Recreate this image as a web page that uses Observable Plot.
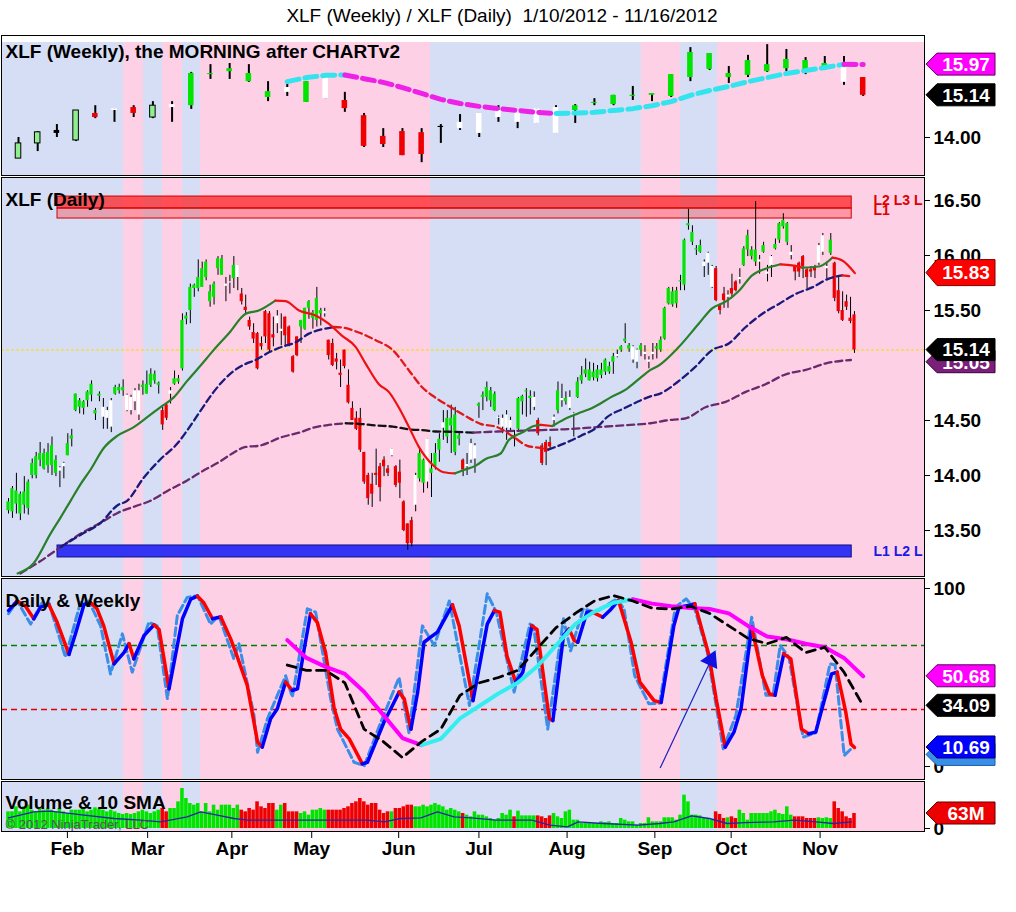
<!DOCTYPE html>
<html><head><meta charset="utf-8">
<script src="https://cdn.jsdelivr.net/npm/d3@7"></script>
<script src="https://cdn.jsdelivr.net/npm/@observablehq/plot@0.6"></script>
<style>
body{margin:0;background:#fff;}
#wrap{position:relative;width:1016px;height:912px;font-family:"Liberation Sans",Arial,sans-serif;overflow:hidden;}
#title{position:absolute;left:0;top:5px;width:1004px;text-align:center;font-size:19px;color:#000;white-space:pre;}
.panel{position:absolute;left:0;}
.panel svg{display:block;}
</style></head><body>
<div id="wrap"><div id="title">XLF (Weekly) / XLF (Daily)  1/10/2012 - 11/16/2012</div></div>
<script>
// ---------------- DATA ----------------
const dailyOpen = [13.68,13.67,13.74,13.65,13.73,13.70,14.00,14.00,14.14,14.06,
14.09,14.09,14.02,14.07,14.11,14.18,14.33,14.59,14.62,14.61,
14.68,14.73,14.56,14.72,14.62,14.59,14.68,14.74,14.77,14.77,
14.73,14.71,14.77,14.77,14.80,14.74,14.82,14.86,14.82,14.59,
14.64,14.77,14.83,14.85,14.97,15.42,15.50,15.70,15.70,15.71,
15.80,15.58,15.62,15.88,15.82,15.74,15.76,15.79,15.91,15.65,
15.53,15.41,15.30,15.29,15.20,15.49,15.47,15.28,15.45,15.33,
15.44,15.35,15.08,15.26,15.35,15.33,15.52,15.43,15.41,15.47,
15.49,15.23,15.20,15.06,14.93,15.14,14.82,14.61,14.52,14.52,
14.21,14.00,13.92,14.02,14.08,14.14,14.06,14.24,14.08,14.03,
13.76,13.56,13.59,14.00,13.97,13.93,14.33,14.02,14.08,14.23,
14.48,14.35,14.45,14.21,14.33,14.14,14.10,14.29,14.27,14.63,
14.71,14.71,14.68,14.59,14.53,14.52,14.55,14.50,14.36,14.42,
14.67,14.76,14.70,14.71,14.50,14.27,14.30,14.30,14.53,14.59,
14.70,14.67,14.71,14.56,14.71,14.86,14.92,14.86,14.89,14.88,
14.91,14.94,14.94,15.03,15.10,15.14,15.22,15.15,15.17,15.14,
15.14,15.12,15.05,15.12,15.15,15.14,15.24,15.56,15.55,15.56,
15.76,15.73,16.27,16.12,16.05,16.03,15.94,16.02,15.90,15.88,
15.55,15.65,15.64,15.70,15.76,15.80,15.91,16.05,15.99,15.94,
15.96,16.03,15.85,15.99,16.06,16.14,16.26,16.12,16.03,15.90,
15.93,15.99,15.87,15.87,15.89,16.09,16.18,15.90,16.02,15.93,
15.68,15.50,15.58,15.43,15.46];
const dailyHigh = [13.79,13.90,14.02,13.85,13.99,13.96,14.15,14.21,14.30,14.24,
14.29,14.35,14.18,14.08,14.12,14.38,14.42,14.74,14.70,14.68,
14.77,14.86,14.61,14.76,14.70,14.62,14.70,14.82,14.83,14.87,
14.74,14.73,14.79,14.83,14.86,14.95,14.97,14.95,14.85,14.62,
14.65,14.80,14.95,14.91,15.47,15.48,15.74,15.74,15.96,15.94,
15.96,15.73,15.76,15.99,16.00,15.80,15.82,15.99,15.91,15.70,
15.64,15.44,15.38,15.30,15.26,15.50,15.49,15.44,15.50,15.47,
15.44,15.36,15.09,15.26,15.41,15.52,15.59,15.50,15.71,15.52,
15.52,15.23,15.24,15.11,15.05,15.14,14.96,14.67,14.58,14.61,
14.21,14.02,14.02,14.24,14.11,14.17,14.09,14.24,14.09,14.14,
13.77,13.56,13.62,14.02,14.24,14.15,14.33,14.20,14.29,14.38,
14.59,14.59,14.64,14.62,14.39,14.15,14.20,14.33,14.29,14.66,
14.76,14.85,14.80,14.76,14.54,14.55,14.59,14.53,14.41,14.71,
14.73,14.79,14.77,14.76,14.52,14.29,14.32,14.35,14.55,14.85,
14.83,14.76,14.77,14.57,14.89,14.99,15.06,15.03,15.02,15.00,
15.02,15.06,15.03,15.11,15.14,15.18,15.38,15.20,15.18,15.15,
15.20,15.18,15.08,15.20,15.20,15.26,15.53,15.71,15.71,15.71,
15.82,16.15,16.42,16.27,16.09,16.14,15.96,16.03,15.91,15.90,
15.56,15.71,15.68,15.83,15.77,15.88,16.08,16.23,16.08,16.49,
16.00,16.12,15.91,16.00,16.15,16.30,16.38,16.30,16.09,15.91,
15.94,16.00,15.88,15.90,15.91,16.11,16.20,15.94,16.20,15.94,
15.80,15.67,15.64,15.62,15.49];
const dailyLow = [13.65,13.61,13.65,13.59,13.65,13.64,13.97,13.97,14.08,14.05,
14.02,14.00,13.99,13.89,13.97,14.18,14.26,14.58,14.56,14.55,
14.62,14.67,14.50,14.67,14.42,14.42,14.39,14.73,14.74,14.72,
14.58,14.55,14.59,14.50,14.73,14.74,14.80,14.83,14.74,14.41,
14.50,14.65,14.82,14.83,14.95,15.37,15.38,15.62,15.67,15.71,
15.77,15.53,15.55,15.82,15.82,15.58,15.65,15.70,15.68,15.55,
15.47,15.32,15.20,14.96,15.14,15.20,15.12,15.17,15.29,15.18,
15.17,15.17,14.93,15.08,15.20,15.32,15.42,15.33,15.35,15.36,
15.44,15.05,14.99,14.96,14.80,14.97,14.65,14.50,14.41,14.21,
13.92,13.73,13.71,13.91,13.76,13.99,13.99,14.17,13.89,13.79,
13.49,13.32,13.35,13.67,13.94,13.84,13.88,13.80,14.05,14.12,
14.32,14.29,14.20,14.18,14.27,13.99,14.00,14.11,14.02,14.52,
14.59,14.67,14.62,14.58,14.46,14.38,14.32,14.40,14.26,14.41,
14.55,14.53,14.55,14.59,14.36,14.09,14.09,14.23,14.44,14.56,
14.62,14.64,14.59,14.35,14.70,14.83,14.89,14.86,14.86,14.85,
14.88,14.91,14.92,14.92,15.07,15.12,15.20,15.12,15.02,14.97,
15.08,15.05,14.97,15.05,15.06,15.12,15.23,15.55,15.53,15.52,
15.68,15.68,16.23,16.09,16.00,16.02,15.80,15.82,15.70,15.58,
15.46,15.52,15.52,15.62,15.67,15.74,15.90,15.99,15.96,15.90,
15.83,16.02,15.76,15.80,16.05,16.11,16.24,16.09,15.96,15.77,
15.80,15.79,15.70,15.80,15.79,15.91,16.00,15.79,16.00,15.58,
15.47,15.40,15.50,15.38,15.11];
const dailyClose = [13.76,13.88,13.86,13.83,13.85,13.94,14.11,14.17,14.20,14.20,
14.21,14.27,14.14,14.04,14.08,14.29,14.36,14.74,14.68,14.67,
14.76,14.83,14.59,14.74,14.53,14.52,14.44,14.80,14.80,14.80,
14.59,14.59,14.67,14.55,14.82,14.83,14.92,14.92,14.84,14.46,
14.52,14.74,14.88,14.88,15.41,15.45,15.71,15.73,15.80,15.88,
15.94,15.67,15.74,15.97,15.97,15.72,15.75,15.91,15.80,15.58,
15.50,15.35,15.24,14.97,15.17,15.26,15.14,15.25,15.38,15.31,
15.27,15.18,14.94,15.09,15.41,15.52,15.58,15.48,15.61,15.50,
15.47,15.09,15.00,15.03,14.91,14.99,14.66,14.50,14.42,14.23,
13.94,13.79,13.83,14.00,13.89,14.08,14.02,14.18,13.91,13.93,
13.50,13.38,13.38,13.73,14.20,14.14,13.94,14.06,14.20,14.33,
14.43,14.52,14.52,14.55,14.36,14.05,14.08,14.14,14.15,14.65,
14.73,14.80,14.77,14.74,14.52,14.44,14.43,14.43,14.33,14.70,
14.72,14.77,14.72,14.62,14.38,14.11,14.21,14.26,14.50,14.77,
14.68,14.70,14.61,14.54,14.85,14.91,14.96,14.96,14.94,14.96,
14.96,15.05,14.99,15.08,15.08,15.17,15.24,15.18,15.05,15.03,
15.18,15.10,15.03,15.10,15.17,15.23,15.52,15.70,15.67,15.68,
15.77,16.14,16.29,16.21,16.06,16.09,15.90,15.93,15.71,15.59,
15.50,15.59,15.62,15.65,15.68,15.78,16.06,16.18,16.05,16.05,
15.94,16.09,15.83,15.91,16.10,16.29,16.32,16.29,16.00,15.85,
15.85,15.90,15.80,15.85,15.86,15.93,16.03,15.88,16.14,15.61,
15.49,15.41,15.53,15.40,15.14];
const dailyTone = ("gggggggggg"+"gggwwggggg"+"ggggwwwggg"+"wwwwgggggr"+"rwgggggggg"+
  "gggggwwgwr"+"rrrrrrrrww"+"rrrrgggggg"+"wrrrrrrrrr"+"rrrrrrrwrr"+
  "rrrwggwggg"+"wggggrwwwg"+"ggggwwwwrg"+"gggwrrrrwg"+"wgwwgggggg"+
  "ggggwgggww"+"gwwwgggggg"+"ggggggwwwr"+"rrwrrwgggg"+"wgwwggggwr"+
  "rrrrrwwwgr"+"rrrrr").split("");
const dailyVolume = [70,70,91,70,91,98,77,70,84,77,
81,77,70,84,70,63,77,77,77,84,
70,77,87,81,77,70,77,70,63,59,
63,59,63,70,77,70,63,70,77,84,
70,84,84,112,168,126,105,98,105,70,
105,70,98,77,98,98,98,84,98,77,
70,84,77,112,91,84,105,105,77,98,
105,70,70,70,63,70,56,77,77,84,
77,77,77,77,77,84,91,105,112,126,
112,98,105,105,77,63,70,70,84,84,
91,98,98,91,91,98,91,98,105,98,
91,77,84,77,70,63,56,49,70,56,
56,49,42,35,42,63,56,77,49,73,
53,53,53,53,53,49,42,53,63,49,
42,70,77,35,35,21,21,21,21,21,
28,25,28,21,21,42,35,28,28,14,
21,21,45,28,28,28,45,45,45,35,
56,140,112,56,56,53,42,42,35,70,
59,42,45,49,42,77,63,35,63,63,
63,63,63,70,77,63,59,91,56,49,
49,49,42,42,42,45,42,45,42,112,
84,70,49,42,63]; // millions

// moving averages: [bar, price]
const fastMA = [[2.3,13.11],[6.3,13.20],[10.6,13.47],[13.2,13.62],[15.7,13.77],[18.2,13.92],[20.7,14.05],[24.1,14.25],[27.5,14.36],[31.7,14.44],[35.1,14.53],[38.4,14.62],[41.8,14.71],[45.2,14.86],[48.6,15.0],[51.9,15.14],[55.7,15.29],[60,15.47],[63.3,15.50],[67.5,15.59],[70.1,15.585],[73.5,15.50],[77.7,15.455],[81,15.38],[84.4,15.27],[87.8,15.17],[90.3,15.02],[93.7,14.83],[96.2,14.76],[98.7,14.62],[101.3,14.44],[103.8,14.26],[107.2,14.10],[110.1,14.03],[113,14.02],[115.2,14.05],[118.2,14.09],[120.7,14.15],[124.5,14.2],[126.5,14.32],[129.9,14.39],[132.9,14.45],[134.7,14.46],[137.5,14.45],[140.5,14.51],[143.8,14.56],[148,14.62],[152.3,14.71],[156.5,14.79],[159.9,14.89],[162.4,14.96],[164.5,15.0],[169.6,15.17],[174.6,15.38],[178,15.52],[181.4,15.58],[184.8,15.68],[188.1,15.82],[191.5,15.88],[195.3,15.92],[198.2,15.91],[200.8,15.89],[205,15.90],[208.4,15.98],[210.9,15.955],[214.1,15.84]];
const midMA = [[13.2,13.35],[18.2,13.46],[23.3,13.57],[27.6,13.73],[30,13.77],[34.2,13.98],[38.5,14.15],[42.7,14.29],[45.2,14.41],[48.6,14.59],[51.9,14.76],[56.6,14.94],[60,15.015],[62.5,15.05],[65.9,15.12],[69.2,15.17],[72.6,15.21],[76,15.29],[79.4,15.33],[82.3,15.35],[84.4,15.345],[88.6,15.30],[92.9,15.23],[97.2,15.14],[101.3,14.955],[104.7,14.80],[107.5,14.72],[111,14.64],[115.2,14.55],[119.4,14.47],[123.6,14.44],[127.8,14.35],[131.2,14.27],[134.6,14.25],[136.5,14.235],[140.5,14.29],[144.7,14.36],[148.9,14.44],[151.4,14.53],[155.7,14.61],[159.1,14.67],[162.4,14.72],[164.5,14.74],[169.6,14.86],[173.8,14.99],[178,15.14],[182.2,15.2],[186.5,15.35],[190.7,15.47],[194.9,15.56],[199.1,15.65],[203.3,15.71],[207.5,15.79],[210.9,15.82],[213.4,15.81]];
const slowMA = [[3,13.11],[8,13.22],[13.2,13.35],[18.2,13.47],[23.3,13.57],[27.6,13.66],[32,13.72],[35.9,13.77],[40.2,13.86],[45.2,13.955],[48.6,14.03],[53.6,14.13],[56.6,14.2],[60,14.26],[63.3,14.27],[69.2,14.35],[73.5,14.39],[77.7,14.44],[81,14.46],[85.3,14.475],[88.6,14.47],[92.9,14.455],[97.2,14.445],[101.3,14.42],[105.5,14.41],[108,14.40],[111.8,14.398],[117.6,14.39],[123.6,14.40],[132.1,14.41],[140.5,14.42],[148.9,14.44],[157.3,14.46],[162.4,14.475],[166.2,14.50],[171.3,14.52],[176.3,14.62],[181.4,14.67],[186.5,14.76],[191.5,14.83],[196.6,14.92],[201.7,14.96],[206.8,15.02],[213.1,15.05]];

// daily stochastics [bar, value]
const stochSlow = [[0,87.6],[2.2,93],[4.3,90],[6.4,83],[8.1,89.5],[10.2,91],[12.3,81],[15.3,63],[17,75],[19.1,91],[20.8,92],[22.4,88.6],[24.1,79],[26.7,57.7],[29.2,64],[30.5,69],[31.7,60.5],[34.3,73.6],[36.8,79.6],[38.1,77],[40.6,43.6],[41.9,58.6],[44,83],[46.1,94],[47.8,95.7],[49.4,92],[51.6,83],[53.7,84],[56.2,71.7],[57.9,61.4],[60.4,45.5],[63,13.7],[64.2,10.9],[66.3,26.8],[68,32.4],[70.1,47.4],[71.8,42.7],[73.1,43.6],[74.8,66],[76.4,85.8],[78.1,81],[80.2,64],[82.4,32.4],[84,21],[86.2,15.5],[89.5,1.5],[90.8,2.4],[95,25],[97.5,36],[98.8,41.8],[100.1,38],[101.8,21],[103.5,41.8],[105.1,69.8],[106.8,72.7],[108.5,75.5],[112.3,90.8],[114,79],[117.5,37],[121.1,80],[122.9,87.6],[124.3,86.7],[126.1,62],[128.3,47.4],[130.1,53],[132.4,79],[133.7,77],[136.8,26.8],[137.7,25.8],[140.4,73.6],[141.8,77.3],[143.1,70.8],[144,69.8],[146.3,86.7],[147.6,86.8],[150.3,83.9],[152.1,87.6],[154.3,93.3],[157.5,69.8],[159.7,47.4],[163.3,37],[165.1,36],[168.3,79],[169.6,89.5],[171.9,90.4],[173.6,91.4],[177.2,62.4],[179,38],[181.3,10.9],[183.5,19.3],[185.3,32.4],[188,78.3],[190.7,51],[192.5,40.8],[193.9,40],[196.1,63.3],[197.9,60.5],[200.6,21],[202.4,18.4],[204.2,19.3],[206,34.3],[208.2,52],[209.6,53],[211.8,30.5],[213.1,12.7],[214,10.69]];
const stochFast = [[0,85.8],[2.2,93],[5.6,80],[8.5,92],[10.2,92],[14.4,61.4],[18.2,92],[20.3,93],[23.3,79],[25.8,52],[28.8,74.5],[31.3,53],[35.5,81],[37.6,79],[40.2,38],[42.7,84.8],[45.2,95],[47.8,96],[51.1,80],[53.2,84.8],[57,60.5],[58.3,69],[62.1,28.7],[63,8],[65.5,26.8],[70.1,51],[71.8,39],[75.6,88.6],[77.7,86.7],[81.5,38],[83.2,21],[87.4,2.4],[90,0.5],[94.2,25],[98.8,50],[101.3,19],[104.7,79],[107.7,68],[111.5,93],[116.6,34.3],[121.1,97],[123.4,86.7],[127.9,41.8],[131.9,80],[132.8,79],[136.4,21],[140.4,83],[142.2,65],[145.4,88.6],[148.5,86.7],[153.9,94.2],[155.7,88.6],[158.4,51],[162,35.2],[164.7,35.5],[168.7,89.5],[171.4,94.2],[173.6,88.6],[176.8,64],[180.8,10],[184,28.7],[188,83.9],[191.6,40],[193.4,40],[195.2,68],[197.4,61.4],[201,16.5],[204.2,19],[207.8,57.7],[209.1,57],[211.4,6.2],[213.6,10.9]];
const stochLevels = [68, 32];

// volume 10 SMA [bar, millions]
const volumeSMA = [[0,45],[6.4,70],[10.6,73],[19.1,56],[26.7,42],[33.4,35],[38.5,28],[45.2,49],[48.6,70],[52.8,56],[57,42],[60.4,35],[73.9,35],[82.4,35],[90.8,35],[95,28],[99.2,42],[104.3,45],[108.5,70],[112.7,49],[117,45],[123.4,35],[132.4,35],[136.9,14],[141.4,7],[144.1,28],[150.4,21],[159.3,14],[164.7,21],[168.3,28],[172.8,53],[177.3,42],[181.8,21],[186.3,25],[193.5,28],[198.8,35],[204.2,28],[208.7,21],[213.2,28]];

// weekly candles
const weeklyOpen = [13.43,13.84,14.19,13.92,14.65,14.78,14.81,14.54,14.89,14.86,
15.70,15.78,15.51,15.08,15.35,14.95,15.68,15.00,14.59,14.03,
14.16,14.13,14.30,14.41,14.65,14.73,14.73,14.78,14.81,14.73,
14.92,14.89,15.11,15.14,15.11,15.62,15.84,15.62,15.68,15.78,
15.86,15.76,15.89,15.89,15.62];
const weeklyHigh = [14.00,14.16,14.35,14.73,14.86,14.78,14.86,14.97,14.97,15.76,
15.97,16.00,15.97,15.51,15.49,15.51,15.68,15.22,14.65,14.24,
14.24,14.24,14.35,14.62,14.65,14.86,14.73,14.78,14.86,14.89,
15.05,15.14,15.38,15.19,15.70,16.43,16.27,15.92,16.22,16.51,
16.38,16.16,16.19,16.19,15.62];
const weeklyLow = [13.43,13.62,14.00,13.89,14.51,14.41,14.54,14.51,14.41,14.76,
15.57,15.57,15.49,14.97,15.11,14.95,15.05,14.68,13.73,13.73,
13.51,13.32,13.84,14.19,14.00,14.41,14.24,14.38,14.11,14.38,
14.86,14.86,15.00,14.97,15.08,15.51,15.81,15.46,15.62,15.76,
15.78,15.70,15.81,15.41,15.11];
const weeklyClose = [13.84,14.14,14.11,14.73,14.54,14.73,14.65,14.86,14.81,15.73,
15.73,15.86,15.73,15.24,15.22,15.51,15.05,14.78,13.76,13.81,
13.51,13.54,14.27,14.24,14.11,14.54,14.41,14.38,14.11,14.86,
14.95,15.14,15.14,15.19,15.70,16.30,16.27,15.73,16.08,15.97,
16.11,16.08,16.00,15.49,15.14];
const weeklyTone = ["lg","lg","k","lg","r","w","r","lg","w","g","g","g","g","g","w","g","w","r","r","r",
  "r","r","k","w","w","w","w","w","w","g","g","g","g","g","g","g","g","g","g","g","g","g","g","w","r"];
// weekly indicators from week 14 onward
const weeklyStart = 14;
const weeklyMA = [15.51,15.62,15.68,15.69,15.59,15.49,15.35,15.19,15.03,14.92,14.84,14.78,14.73,14.68,14.65,14.66,14.68,14.73,14.78,14.86,14.97,15.14,15.27,15.38,15.51,15.62,15.73,15.81,15.89,15.98,15.97];
const weeklyK = [71,61,56,52,42,29,16,12,15.5,27,34,41,47,56,68,80,87,92,94,91.5,90,89,88.5,86,79,73,71.5,69,67,61,50.68];
const weeklyD = [57,54,54,47,21,14,5,14,21,40,47,50,54,66,78,86,93,96,93,89,88.5,90,86,79,72,69,72.5,64,67,53,34.09];

// background regime bands (bar units) and zones
const bgEdges = [-1.8, 29.1, 34.15, 38.96, 44.0, 48.57, 106.75, 160.1, 170.0, 179.35, 231.8];
const bgTones = ["b","p","b","p","b","p","b","p","b","p"];
const resistanceLevels = [16.536, 16.427, 16.336];
const supportLevels = [13.364, 13.255];
const zoneSpan = [12.4, 213.3];
const monthTicks = [14.9, 35.2, 56.5, 76.7, 98.7, 119, 141.3, 163.5, 182.8, 205.3];
const monthLabels = ["Feb","Mar","Apr","May","Jun","Jul","Aug","Sep","Oct","Nov"];
const arrowLine = {x1: 164.9, y1: -0.6, x2: 178.6, y2: 64};

// ---------------- SETUP ----------------
const W = 1016, ML = 1, MR = 92;
const xDomain = [-1.771, 231.71];
const FONT = "'Liberation Sans', Arial, sans-serif";
const BLUEBG = "#d6def6", PINKBG = "#fdd0e6";
const toneFill = {g:"#00e400", r:"#ee0000", w:"#ffffff", k:"#000000", lg:"#90ee90"};
const weekPos = d3.scaleLinear().domain([0, 44]).range([2.53, 216.2]);
const NS = "http://www.w3.org/2000/svg";

const daily = dailyOpen.map((o, i) => ({i, o, h: dailyHigh[i], l: dailyLow[i], c: dailyClose[i], t: dailyTone[i], v: dailyVolume[i]}));
const weekly = weeklyOpen.map((o, w) => ({x: weekPos(w), o, h: weeklyHigh[w], l: weeklyLow[w], c: weeklyClose[w], t: weeklyTone[w]}));
const wk = arr => arr.map((v, k) => [weekPos(weeklyStart + k), v]);
const bg = bgTones.map((t, k) => ({x1: bgEdges[k], x2: bgEdges[k + 1], fill: t === "b" ? BLUEBG : PINKBG}));

function runs(points, upColor, downColor) {
  const out = []; let run = -1, prev = null;
  for (let k = 1; k < points.length; k++) {
    const [x0, y0] = points[k - 1], [x1, y1] = points[k];
    const dir = y1 > y0 ? 1 : -1;
    const color = dir > 0 ? upColor : downColor;
    if (dir !== prev) { run++; out.push({x: x0, y: y0, run, color}); prev = dir; }
    out.push({x: x1, y: y1, run, color});
  }
  return out;
}
function colorLine(points, up, down, opts = {}) {
  return Plot.line(runs(points, up, down), {x: "x", y: "y", z: "run", stroke: "color", ...opts});
}
function markerMark(list) {
  return (index, scales) => {
    const g = document.createElementNS(NS, "g");
    for (const m of list) {
      const y = scales.y(m.value), hh = m.half || 11;
      const p = document.createElementNS(NS, "polygon");
      p.setAttribute("points", [[926, y], [937, y - hh], [995, y - hh], [995, y + hh], [937, y + hh]].map(d => d.join(",")).join(" "));
      p.setAttribute("fill", m.fill);
      p.setAttribute("stroke", m.stroke || "#222");
      g.appendChild(p);
      if (m.label) {
        const t = document.createElementNS(NS, "text");
        t.setAttribute("x", 966); t.setAttribute("y", y); t.setAttribute("dy", "0.36em");
        t.setAttribute("text-anchor", "middle"); t.setAttribute("fill", "#fff");
        t.setAttribute("font-size", 19); t.setAttribute("font-weight", "bold");
        t.setAttribute("font-family", FONT);
        t.textContent = m.label;
        g.appendChild(t);
      }
    }
    return g;
  };
}
const baseStyle = {background: "transparent", fontFamily: FONT, fontSize: "19px", fontWeight: "bold", color: "#000", overflow: "visible"};
function panelTitle(text, dy, extra = {}) {
  return Plot.text([text], {text: d => d, frameAnchor: "top-left", dx: 4, dy, fontSize: 19, fontWeight: "bold", fill: "#000", ...extra});
}
const wrap = document.getElementById("wrap");
function addPanel(top, svg) {
  const d = document.createElement("div"); d.className = "panel"; d.style.top = top + "px";
  d.appendChild(svg); wrap.appendChild(d);
}
const lastClose = dailyClose[dailyClose.length - 1];

// ---------------- WEEKLY PANEL ----------------
addPanel(34, Plot.plot({
  width: W, height: 142, marginLeft: ML, marginRight: MR, marginTop: 1, marginBottom: 1,
  style: baseStyle,
  x: {domain: xDomain, axis: null},
  y: {domain: [12.973, 16.757], axis: "right", ticks: [14], tickFormat: d3.format(".2f"), tickSize: 5, tickPadding: 4, label: null},
  color: {type: "identity"},
  marks: [
    Plot.rect(bg, {x1: "x1", x2: "x2", fill: "fill", insetTop: 7}),
    Plot.ruleX(weekly, {x: "x", y1: "l", y2: "h", stroke: "#000", strokeWidth: 2}),
    Plot.rect(weekly, {x1: d => d.x - 0.7, x2: d => d.x + 0.7, y1: d => Math.min(d.o, d.c), y2: d => Math.max(d.o, d.c),
      fill: d => toneFill[d.t], stroke: d => d.t === "lg" ? "#000" : "none", strokeWidth: 1}),
    colorLine(wk(weeklyMA), "#33e3ee", "#ee22e6", {strokeWidth: 5, strokeDasharray: "12,6"}),
    panelTitle("XLF (Weekly), the MORNING after CHARTv2", 9),
    Plot.frame({stroke: "#000"}),
    markerMark([
      {value: weeklyMA[weeklyMA.length - 1], label: weeklyMA[weeklyMA.length - 1].toFixed(2), fill: "#ff00ff", stroke: "#600060"},
      {value: weeklyClose[weeklyClose.length - 1], label: weeklyClose[weeklyClose.length - 1].toFixed(2), fill: "#000", stroke: "#000"}
    ])
  ]
}));

// ---------------- DAILY PANEL ----------------
addPanel(176, Plot.plot({
  width: W, height: 401, marginLeft: ML, marginRight: MR, marginTop: 1, marginBottom: 1,
  style: baseStyle,
  x: {domain: xDomain, axis: null},
  y: {domain: [13.082, 16.709], axis: "right", ticks: [13.5, 14, 14.5, 15.5, 16, 16.5], tickFormat: d3.format(".2f"), tickSize: 5, tickPadding: 4, label: null},
  color: {type: "identity"},
  marks: [
    Plot.rect(bg, {x1: "x1", x2: "x2", fill: "fill"}),
    Plot.rect([{y1: resistanceLevels[1], y2: resistanceLevels[0]}], {x1: zoneSpan[0], x2: zoneSpan[1], y1: "y1", y2: "y2", fill: "#ff1010", fillOpacity: 0.68, stroke: "#d00000"}),
    Plot.rect([{y1: resistanceLevels[2], y2: resistanceLevels[1]}], {x1: zoneSpan[0], x2: zoneSpan[1], y1: "y1", y2: "y2", fill: "#ff2020", fillOpacity: 0.32, stroke: "#d00000"}),
    Plot.rect([{y1: supportLevels[1], y2: supportLevels[0]}], {x1: zoneSpan[0], x2: zoneSpan[1], y1: "y1", y2: "y2", fill: "#3434f4", stroke: "#10108a"}),
    Plot.text([{y: 16.50, t: "L2 L3 L"}, {y: 16.405, t: "L1"}], {x: 218.8, y: "y", text: "t", textAnchor: "start", fill: "#e00000", fontSize: 14, fontWeight: "bold"}),
    Plot.text([{y: 13.31, t: "L1 L2 L"}], {x: 218.8, y: "y", text: "t", textAnchor: "start", fill: "#1a1ae0", fontSize: 14, fontWeight: "bold"}),
    Plot.ruleY([lastClose], {stroke: "#f2dc4a", strokeWidth: 1.5, strokeDasharray: "3,2"}),
    Plot.ruleX(daily, {x: "i", y1: "l", y2: "h", stroke: "#000", strokeWidth: 1}),
    Plot.rect(daily, {x1: d => d.i - 0.4, x2: d => d.i + 0.4, y1: d => Math.min(d.o, d.c), y2: d => Math.max(d.o, d.c), fill: d => toneFill[d.t]}),
    colorLine(slowMA, "#6b2a6b", "#111111", {strokeWidth: 2.3, strokeDasharray: "7,4", curve: "monotone-x"}),
    colorLine(midMA, "#1a1a7a", "#e01818", {strokeWidth: 2.3, strokeDasharray: "7,4", curve: "monotone-x"}),
    colorLine(fastMA, "#2a7f2a", "#ee1111", {strokeWidth: 2.2, curve: "monotone-x"}),
    panelTitle("XLF (Daily)", 15),
    Plot.frame({stroke: "#000"}),
    markerMark([
      {value: 15.03, label: "15.05", fill: "#7a1f7a", stroke: "#3a003a"},
      {value: lastClose, label: lastClose.toFixed(2), fill: "#000", stroke: "#000"},
      {value: 15.84, label: "15.83", fill: "#ff0000", stroke: "#800000", half: 13}
    ])
  ]
}));

// ---------------- OSCILLATOR PANEL ----------------
addPanel(577, Plot.plot({
  width: W, height: 203, marginLeft: ML, marginRight: MR, marginTop: 1, marginBottom: 1,
  style: baseStyle,
  x: {domain: xDomain, axis: null},
  y: {domain: [-7.3, 105.62], axis: "right", ticks: [0, 100], tickFormat: d3.format("d"), tickSize: 5, tickPadding: 4, label: null},
  color: {type: "identity"},
  marks: [
    Plot.rect(bg, {x1: "x1", x2: "x2", fill: "fill"}),
    Plot.ruleY([stochLevels[0]], {stroke: "#008000", strokeWidth: 1.5, strokeDasharray: "6,4"}),
    Plot.ruleY([stochLevels[1]], {stroke: "#e00000", strokeWidth: 1.5, strokeDasharray: "6,4"}),
    Plot.line(stochFast, {x: d => d[0], y: d => d[1], stroke: "#3a8ee8", strokeWidth: 3, strokeDasharray: "8,4"}),
    colorLine(stochSlow, "#0000ff", "#ff0000", {strokeWidth: 3.5}),
    colorLine(wk(weeklyK), "#33eeee", "#ff00ff", {strokeWidth: 4}),
    Plot.line(wk(weeklyD), {x: d => d[0], y: d => d[1], stroke: "#000", strokeWidth: 2.8, strokeDasharray: "9,6"}),
    Plot.arrow([arrowLine], {x1: "x1", y1: "y1", x2: "x2", y2: "y2", stroke: "#2020c0", strokeWidth: 1.2, headLength: 0}),
    Plot.dot([arrowLine], {x: d => d.x2 - 0.9, y: d => d.y2 - 4.2, symbol: "triangle", r: 7, fill: "#1010e0", stroke: "none", rotate: 25}),
    panelTitle("Daily & Weekly", 15),
    Plot.frame({stroke: "#000"}),
    markerMark([
      {value: weeklyK[weeklyK.length - 1], label: weeklyK[weeklyK.length - 1].toFixed(2), fill: "#ff00ff", stroke: "#600060"},
      {value: weeklyD[weeklyD.length - 1], label: weeklyD[weeklyD.length - 1].toFixed(2), fill: "#000", stroke: "#000"},
      {value: 6.5, label: "", fill: "#3a8ee8", stroke: "#1a5ea8"},
      {value: stochSlow[stochSlow.length - 1][1], label: stochSlow[stochSlow.length - 1][1].toFixed(2), fill: "#0000ff", stroke: "#000060"}
    ])
  ]
}));

// ---------------- VOLUME PANEL ----------------
const lastVol = dailyVolume[dailyVolume.length - 1];
addPanel(780, Plot.plot({
  width: W, height: 92, marginLeft: ML, marginRight: MR, marginTop: 1, marginBottom: 41,
  style: baseStyle,
  x: {domain: xDomain, axis: "bottom", ticks: monthTicks, tickFormat: d => monthLabels[monthTicks.indexOf(d)], tickSize: 7, tickPadding: 3, label: null},
  y: {domain: [-12.6, 197.4], axis: "right", ticks: [0], tickFormat: d3.format("d"), tickSize: 5, tickPadding: 4, label: null},
  color: {type: "identity"},
  marks: [
    Plot.rect(bg, {x1: "x1", x2: "x2", fill: "fill"}),
    Plot.rect(daily, {x1: d => d.i - 0.45, x2: d => d.i + 0.45, y1: 0, y2: "v", fill: d => d.t === "r" ? "#ee0000" : "#00e400"}),
    Plot.line(volumeSMA, {x: d => d[0], y: d => d[1], stroke: "#2424a8", strokeWidth: 1.3}),
    panelTitle("Volume & 10 SMA", 14),
    panelTitle("© 2012 NinjaTrader, LLC", 38, {fontSize: 13, fontWeight: "normal", fill: "#555"}),
    Plot.frame({stroke: "#000"}),
    markerMark([{value: lastVol, label: lastVol + "M", fill: "#ee0000", stroke: "#600000"}])
  ]
}));
</script>
</body></html>
